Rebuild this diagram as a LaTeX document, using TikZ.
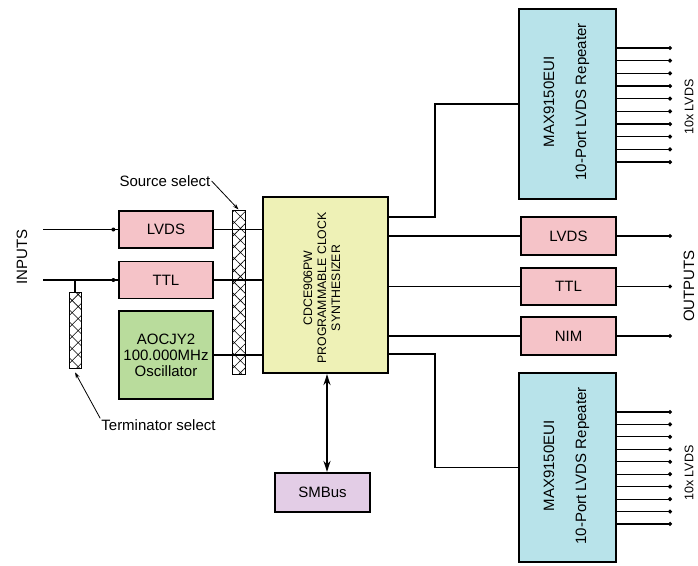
\documentclass[tikz,border=0pt]{standalone}
\usepackage{fontspec}
\setmainfont{Liberation Sans}
\usetikzlibrary{calc,positioning,patterns.meta,arrows.meta}
\definecolor{boxpink}{HTML}{F5C3C8}
\definecolor{oscgreen}{HTML}{B9DC9C}
\definecolor{synthyellow}{HTML}{EEF1B6}
\definecolor{repcyan}{HTML}{B8E3EA}
\definecolor{buslilac}{HTML}{E3CDE6}

\tikzset{
    smallbox/.style={draw, line width=1.3pt, fill=boxpink, minimum width=94pt, minimum height=37pt, inner sep=0pt, font=\fontsize{15}{16}\selectfont},
    bigbox/.style={draw, line width=2.2pt, inner sep=0pt},
    selbar/.style={draw, line width=1pt, inner sep=0pt, pattern={Hatch[angle=45,distance=8.5pt,line width=0.6pt]}},
    wire/.style={line width=1.1pt},
    lbl/.style={font=\fontsize{15}{18}\selectfont},
    dotend/.style={-{Circle[length=4pt]}},
}

\begin{document}
\begin{tikzpicture}[x=1pt, y=-1pt]
            \useasboundingbox (0,0) rectangle (698,565);

            % Input side
            \node[lbl, rotate=90] (inputs) at (22,257) {INPUTS};
            \node[smallbox] (inlvds) at (166,229.5) {LVDS};
            \node[smallbox] (inttl) at (166,280) {TTL};
            \node[smallbox, fill=oscgreen, minimum height=88pt, align=center] (osc) at (166,355) {AOCJY2\\100.000MHz\\Oscillator};
            \coordinate (inA) at (43,229.5);
            \coordinate (inB) at (43,280);
            \draw[wire] (inA) -- (inlvds.west);
            \draw[wire] (inB) -- (inttl.west);
            \fill ($(inlvds.west)+(-5,0)$) circle (2pt);
            \fill ($(inttl.west)+(-5,0)$) circle (2pt);

            % Synthesizer
            \node[bigbox, fill=synthyellow, minimum width=125pt, minimum height=176pt] (synth) at (325.5,285) {};
            \node[rotate=90, align=center, font=\fontsize{12.3}{14}\selectfont] (synthtext) at (322,288) {CDCE906PW\\PROGRAMMABLE CLOCK\\SYNTHESIZER};

            % Wires into the synthesizer (behind the select bar)
            \draw[wire] (inlvds.east) -- (inlvds.east -| synth.west);
            \draw[wire] (inttl.east) -- (inttl.east -| synth.west);
            \draw[wire] (osc.east) -- (osc.east -| synth.west);

            % Select bars
            \node[selbar, minimum width=12pt, minimum height=76pt] (termsel) at (75,330) {};
            \node[selbar, minimum width=13pt, minimum height=164pt] (srcsel) at (238.5,292) {};
            \draw[wire] (termsel.north |- inttl.west) -- (termsel.north);
            \node[lbl, inner sep=1pt] (srclbl) at (165,181) {Source select};
            \node[lbl, inner sep=1pt] (termlbl) at (158.5,425) {Terminator select};
            \draw[line width=0.8pt, -{Stealth[length=6pt,width=4pt]}] (srclbl.east) -- (srcsel.north);
            \draw[line width=0.8pt, -{Stealth[length=6pt,width=4pt]}] (termlbl.north west) -- ([yshift=-4pt]termsel.south);

            % Output buffers
            \node[smallbox, minimum width=95pt, minimum height=38pt] (outlvds) at (568.5,236) {LVDS};
            \node[smallbox, minimum width=95pt, minimum height=37pt] (outttl) at (568.5,286.5) {TTL};
            \node[smallbox, minimum width=95pt, minimum height=38pt] (outnim) at (568.5,336) {NIM};
            \foreach \b/\y in {outlvds/236, outttl/286.5, outnim/336} {
                \coordinate (end\b) at (672,\y);
                \draw[wire] (\b.west -| synth.east) -- (\b.west);
                \draw[wire, dotend] (\b.east) -- (end\b);
            }
            \node[lbl, rotate=90] (outputs) at (689,286) {OUTPUTS};

            % Repeaters
            \node[bigbox, fill=repcyan, minimum width=97pt, minimum height=190pt] (repA) at (567.5,104) {};
            \node[bigbox, fill=repcyan, minimum width=97pt, minimum height=189pt] (repB) at (567.5,467.5) {};
            \node[lbl, rotate=90, align=center] (repAtext) at (566.5,102) {MAX9150EUI\\[14pt]10-Port LVDS Repeater};
            \node[lbl, rotate=90, align=center] (repBtext) at (566.5,466) {MAX9150EUI\\[14pt]10-Port LVDS Repeater};
            \coordinate (upA) at (388,217);
            \coordinate (upB) at (388,354);
            \draw[wire] (upA) -- ++(47,0) |- (repA.west);
            \draw[wire] (upB) -- ++(47,0) |- (repB.west);
            \foreach \i in {0,...,9} {
                \coordinate (ra\i) at (672,{48+\i*12.67});
                \coordinate (rb\i) at (672,{412+\i*12.44});
                \draw[wire, dotend] (repA.east |- ra\i) -- (ra\i);
                \draw[wire, dotend] (repB.east |- rb\i) -- (rb\i);
            }
            \node[rotate=90, font=\fontsize{12.5}{14}\selectfont] (tenA) at (689,107) {10x LVDS};
            \node[rotate=90, font=\fontsize{12.5}{14}\selectfont] (tenB) at (689,473) {10x LVDS};

            % SMBus
            \node[bigbox, fill=buslilac, minimum width=95pt, minimum height=39pt, lbl] (smbus) at (322.5,492.5) {SMBus};
            \draw[line width=2.2pt, {Stealth[length=11pt,width=7pt]}-{Stealth[length=11pt,width=7pt]}] ([xshift=1.5pt]synth.south) -- ([xshift=1.5pt]synth.south |- smbus.north);
\end{tikzpicture}
\end{document}
